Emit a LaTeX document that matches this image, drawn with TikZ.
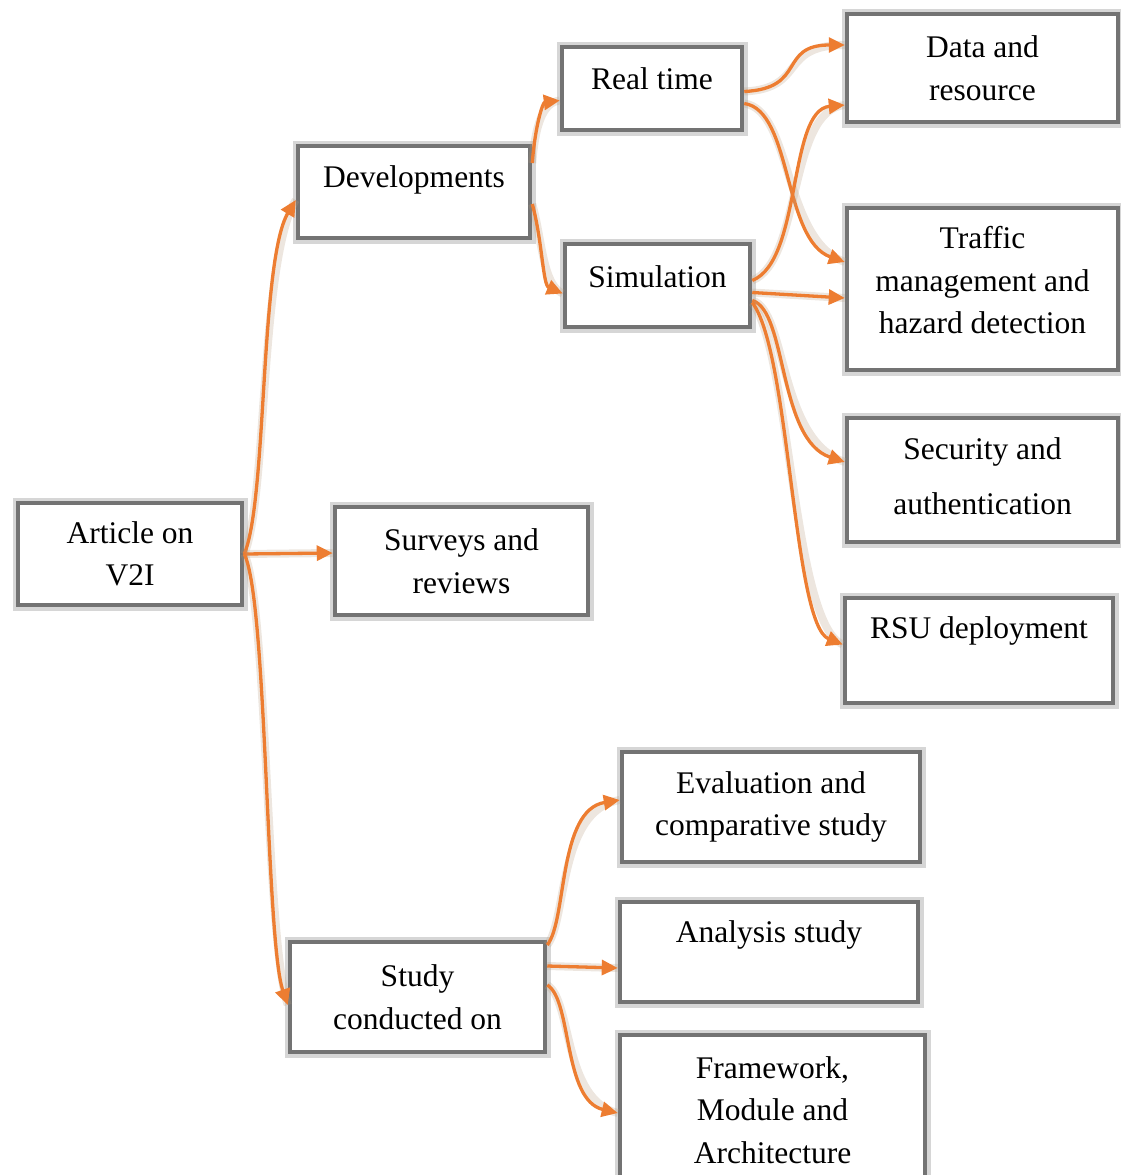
\documentclass[tikz,border=0pt]{standalone}
\usepackage{fontspec}
\setmainfont{Liberation Serif}
\usetikzlibrary{arrows.meta}
\definecolor{arrorange}{HTML}{ED7D31}
\begin{document}
\begin{tikzpicture}[x=1pt,y=-1pt,
  boxbase/.style={draw=black!55, line width=4.5pt, fill=white,
    preaction={draw=black!40, line width=11pt, opacity=0.4},
    inner sep=0pt, font=\fontsize{31.5}{42.5}\selectfont},
  box/.style={boxbase, align=center},
  onebox/.style={boxbase, text height=22pt},
  conn/.style={draw=arrorange, line width=3.3pt, -{Triangle[length=16pt,width=15pt]},
    preaction={draw=brown!70!black!60, line width=8pt, opacity=0.25, arrows=-}}]
\useasboundingbox (0,0) rectangle (1121,1175);

% nodes
\node[box, minimum width=224pt, minimum height=102pt] (art) at (130,554) {Article on\\V2I};
\node[onebox, text depth=31.2pt, minimum width=232pt, minimum height=92pt] (dev) at (414,192) {Developments};
\node[box, minimum width=253pt, minimum height=108pt] (sur) at (461.5,561) {Surveys and\\reviews};
\node[box, minimum width=255pt, minimum height=110pt] (stu) at (417.5,997) {Study\\conducted on};
\node[onebox, text depth=19.2pt, minimum width=180pt, minimum height=83pt] (rt) at (652,88.5) {Real time};
\node[onebox, text depth=17.2pt, minimum width=185pt, minimum height=83pt] (sim) at (657.5,285.5) {Simulation};
\node[box, minimum width=271pt, minimum height=108pt] (dat) at (982.5,68) {Data and\\resource};
\node[box, minimum width=271pt, minimum height=162pt] (tra) at (982.5,289) {Traffic\\management and\\hazard detection\\[-25pt]\mbox{}};
\node[box, minimum width=271pt, minimum height=124pt] (sec) at (982.5,480) {Security and\\[12.5pt]authentication\\[-34.5pt]\mbox{}};
\node[onebox, text depth=45.2pt, minimum width=268pt, minimum height=105pt] (rsu) at (979,650.5) {RSU deployment};
\node[box, minimum width=298pt, minimum height=110pt] (eva) at (771,807) {Evaluation and\\comparative study};
\node[onebox, text depth=41.2pt, minimum width=298pt, minimum height=100pt] (ana) at (769,952) {Analysis study};
\node[box, minimum width=305pt, minimum height=150pt] (fra) at (772.5,1110) {Framework,\\Module and\\Architecture};

% connectors
\draw[conn] (art.east) .. controls +(23,-54) and +(-36,60) .. ([yshift=-8pt]dev.west);
\draw[conn] (art.east) -- ([yshift=8pt]sur.west);
\draw[conn] (art.east) .. controls +(23,46) and +(-22,-65) .. ([yshift=-8pt]stu.west);

\draw[conn] ([yshift=29pt]dev.east) .. controls +(3,-38) and +(-17,2) .. ([yshift=-12pt]rt.west);
\draw[conn] ([yshift=-12pt]dev.east) .. controls +(10,36) and +(-20,-8.5) .. ([yshift=-8pt]sim.west);

\draw[conn] ([yshift=-3pt]rt.east) .. controls +(63,-3) and +(-67,0) .. ([yshift=23pt]dat.west);
\draw[conn] ([yshift=-15pt]rt.east) .. controls +(48,6.5) and +(-62,-22) .. ([yshift=27pt]tra.west);

\draw[conn] ([yshift=5pt]sim.east) .. controls +(50,-20) and +(-57,5) .. ([yshift=-37pt]dat.west);
\draw[conn] ([yshift=-7pt]sim.east) -- ([yshift=-9pt]tra.west);
\draw[conn] ([yshift=-15pt]sim.east) .. controls +(35,10) and +(-67,-22) .. ([yshift=18pt]sec.west);
\draw[conn] ([yshift=-17pt]sim.east) .. controls +(38,50) and +(-50,-20) .. ([yshift=6pt]rsu.west);

\draw[conn] ([yshift=52pt]stu.east) .. controls +(20,-25) and +(-62,10) .. ([yshift=7pt]eva.west);
\draw[conn] ([yshift=31pt]stu.east) -- ([yshift=-16pt]ana.west);
\draw[conn] ([yshift=12pt]stu.east) .. controls +(25,15) and +(-55,-13) .. ([yshift=-3pt]fra.west);
\end{tikzpicture}
\end{document}
